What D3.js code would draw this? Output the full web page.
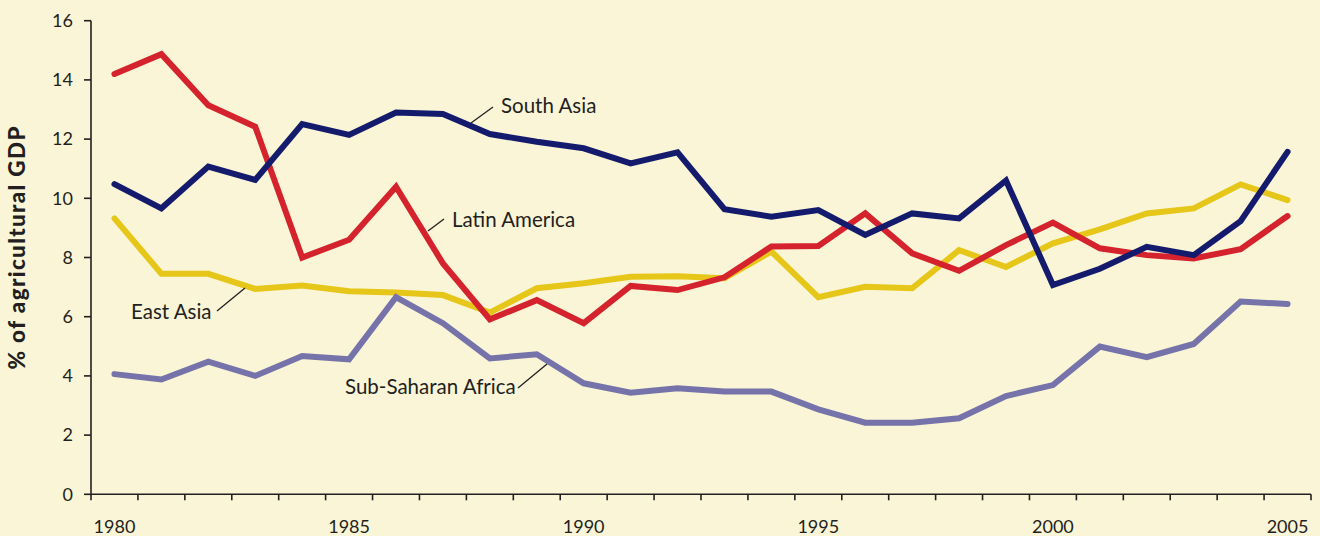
<!DOCTYPE html>
<html lang="en"><head><meta charset="utf-8">
<title>Agricultural GDP share</title>
<script src="https://cdnjs.cloudflare.com/ajax/libs/d3/7.8.5/d3.min.js"></script>
<style>
  body{ margin:0; background:#F9F5D6; }
  .chart-svg{ display:block; }
  .tick-text{ font-family: Lato, "Open Sans", sans-serif; font-size:18px; fill:#231F20; }
  .axis-title{ font-family: Lato, "Open Sans", sans-serif; font-size:22.5px; font-weight:900; fill:#231F20; }
  .series-label{ font-family: Lato, "Open Sans", sans-serif; font-size:20.5px; fill:#231F20; }
</style>
</head>
<body>
<svg class="chart-svg" width="1320" height="536"></svg>
<script>
var years = d3.range(1980, 2006)
var yTicks = [0, 2, 4, 6, 8, 10, 12, 14, 16]
var xLabels = [1980, 1985, 1990, 1995, 2000, 2005]

var southAsia = [10.48, 9.66, 11.07, 10.62, 12.51, 12.14, 12.9, 12.85, 12.17, 11.91, 11.69, 11.18, 11.55,
  9.63, 9.38, 9.6, 8.76, 9.49, 9.32, 10.6, 7.07, 7.62, 8.36, 8.08, 9.23, 11.57]
var latinAmerica = [14.2, 14.87, 13.14, 12.42, 8.0, 8.6, 10.39, 7.8, 5.91, 6.56, 5.78, 7.04, 6.9,
  7.33, 8.37, 8.39, 9.49, 8.14, 7.55, 8.42, 9.18, 8.31, 8.08, 7.97, 8.28, 9.4]
var eastAsia = [9.32, 7.45, 7.45, 6.94, 7.05, 6.86, 6.82, 6.73, 6.14, 6.96, 7.13, 7.35, 7.37,
  7.3, 8.2, 6.66, 7.01, 6.96, 8.25, 7.68, 8.48, 8.95, 9.49, 9.66, 10.47, 9.94]
var subSaharan = [4.06, 3.88, 4.48, 4.0, 4.67, 4.56, 6.66, 5.78, 4.59, 4.73, 3.75, 3.43, 3.58,
  3.47, 3.47, 2.87, 2.42, 2.42, 2.57, 3.32, 3.69, 4.99, 4.63, 5.08, 6.51, 6.43]

var series = [
  {name:"East Asia", values:eastAsia, color:"#E6C619"},
  {name:"Sub-Saharan Africa", values:subSaharan, color:"#7573A9"},
  {name:"Latin America", values:latinAmerica, color:"#D5232D"},
  {name:"South Asia", values:southAsia, color:"#151B6C"}
]

// label text position + leader line (from, to)
var labels = [
  {name:"South Asia", x:501, y:113, line:[[493,107],[471,123]]},
  {name:"Latin America", x:452, y:227, line:[[444,219],[428,231]]},
  {name:"East Asia", x:131, y:319, line:[[217,311],[245,288]]},
  {name:"Sub-Saharan Africa", x:345, y:394, line:[[518,388],[547,364]]}
]

var svg = d3.select('.chart-svg')
var padLeft = 91, padRight = 1311, padTop = 20.7, padBottom = 494.3

var x = d3.scaleBand().domain(years).range([padLeft, padRight])
var y = d3.scaleLinear().domain([0, 16]).range([padBottom, padTop])

svg.append("rect").attr("width", 1320).attr("height", 536).attr("fill", "#F9F5D6")

// y axis
var yAxis = svg.append("g")
yAxis.append("line")
  .attr("x1", padLeft).attr("x2", padLeft)
  .attr("y1", y(16)).attr("y2", y(0))
  .attr("stroke", "#231F20").attr("stroke-width", 1.6)
yAxis.selectAll(".ytick").data(yTicks).enter().append("line")
  .attr("x1", padLeft - 7).attr("x2", padLeft)
  .attr("y1", function(d){ return y(d) }).attr("y2", function(d){ return y(d) })
  .attr("stroke", "#231F20").attr("stroke-width", 1.6)
yAxis.selectAll(".ylab").data(yTicks).enter().append("text")
  .attr("class", "tick-text")
  .attr("x", padLeft - 18)
  .attr("y", function(d){ return y(d) })
  .attr("dy", "0.35em")
  .attr("text-anchor", "end")
  .text(function(d){ return d })

// x axis
var xAxis = svg.append("g")
xAxis.append("line")
  .attr("x1", padLeft).attr("x2", padRight)
  .attr("y1", padBottom).attr("y2", padBottom)
  .attr("stroke", "#231F20").attr("stroke-width", 1.6)
var bounds = years.map(function(d){ return x(d) }).concat([padRight])
xAxis.selectAll(".xtick").data(bounds).enter().append("line")
  .attr("x1", function(d){ return d }).attr("x2", function(d){ return d })
  .attr("y1", padBottom).attr("y2", padBottom + 6)
  .attr("stroke", "#231F20").attr("stroke-width", 1.6)
xAxis.selectAll(".xlab").data(xLabels).enter().append("text")
  .attr("class", "tick-text")
  .attr("x", function(d){ return x(d) + x.bandwidth() / 2 })
  .attr("y", 533)
  .attr("text-anchor", "middle")
  .text(function(d){ return d })

svg.append("text")
  .attr("class", "axis-title")
  .attr("transform", "translate(25,248) rotate(-90)")
  .attr("text-anchor", "middle")
  .attr("textLength", 243)
  .attr("lengthAdjust", "spacing")
  .text("% of agricultural GDP")

// lines
var line = d3.line()
  .x(function(d, i){ return x(years[i]) + x.bandwidth() / 2 })
  .y(function(d){ return y(d) })

svg.selectAll(".series").data(series).enter().append("path")
  .attr("d", function(d){ return line(d.values) })
  .attr("fill", "none")
  .attr("stroke", function(d){ return d.color })
  .attr("stroke-width", 6)
  .attr("stroke-linejoin", "miter")
  .attr("stroke-linecap", "round")

// labels
svg.selectAll(".leader").data(labels).enter().append("line")
  .attr("x1", function(d){ return d.line[0][0] }).attr("y1", function(d){ return d.line[0][1] })
  .attr("x2", function(d){ return d.line[1][0] }).attr("y2", function(d){ return d.line[1][1] })
  .attr("stroke", "#231F20").attr("stroke-width", 1.3)
svg.selectAll(".series-label").data(labels).enter().append("text")
  .attr("class", "series-label")
  .attr("x", function(d){ return d.x })
  .attr("y", function(d){ return d.y })
  .text(function(d){ return d.name })
</script>
</body></html>
